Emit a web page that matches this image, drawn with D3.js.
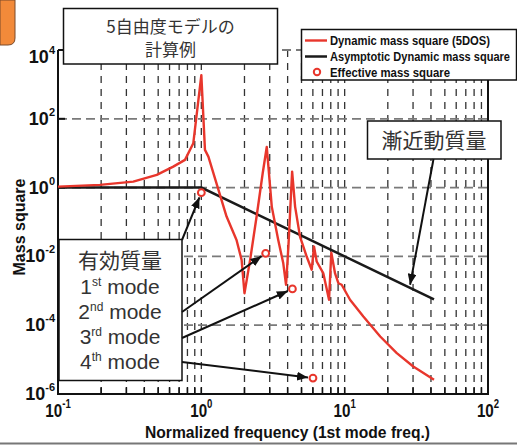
<!doctype html>
<html>
  <head>
    <meta charset="utf-8">
    <script src="https://cdnjs.cloudflare.com/ajax/libs/d3/7.8.5/d3.min.js"></script>
    <style>
      body { margin: 0; background: #fff; }
      svg { display: block; }
    </style>
  </head>
  <body>
    <svg></svg>
    <script>
      var width = 517,
          height = 446;

      // dynamic mass square (5DOS)
      var freq = [0.1, 0.196, 0.335, 0.489, 0.637, 0.769, 0.879, 1.0, 1.06, 1.12, 1.50, 1.76, 1.91, 2.0, 2.19, 2.43,
                  2.68, 2.86, 3.10, 3.44, 3.73, 3.90, 4.05, 4.30, 4.51, 4.88, 5.43, 5.89, 6.11, 6.38, 7.10, 7.78,
                  8.07, 8.57, 9.04, 9.53, 10.9, 13.5, 17.7, 23.1, 30.1, 42];
      var dynMass = [1.07, 1.2, 1.49, 2.34, 4.08, 6.4, 19.5, 1860, 12.5, 7.96, 0.144, 0.030, 0.0079, 8.5e-4, 0.0079, 0.144,
                     2.62, 15.2, 0.28, 0.030, 0.0063, 0.0015, 0.0193, 2.92, 0.28, 0.0377, 0.0099, 0.0041, 0.0193, 0.0071, 0.0032, 5.5e-4,
                     0.0129, 0.0032, 0.00166, 0.0015, 5.5e-4, 1.78e-4, 4.7e-5, 1.54e-5, 6.3e-6, 2.6e-6];

      // asymptotic dynamic mass square
      var asymFreq = [0.1, 1, 42];
      var asymMass = [1, 1, 5.67e-4];

      // effective mass square of modes 1-4
      var effFreq = [1.0, 2.81, 4.32, 6.01];
      var effMass = [0.71, 0.0123, 0.00113, 2.9e-6];
      var modeNames = [["1", "st"], ["2", "nd"], ["3", "rd"], ["4", "th"]];

      var xTicks = [0.1, 1, 10, 100];
      var xExp = ["-1", "0", "1", "2"];
      var yTicks = [1e4, 1e2, 1, 1e-2, 1e-4, 1e-6];
      var yExp = ["4", "2", "0", "-2", "-4", "-6"];

      var legendLabels = ["Dynamic mass square (5DOS)", "Asymptotic Dynamic mass square", "Effective mass square"];

      var red = "#e8362c";
      var latin = "'Liberation Sans', Arial, sans-serif";
      var jp = "'Noto Sans CJK JP', sans-serif";

      var x = d3.scaleLog().domain([0.1, 100]).range([58, 488]);
      var y = d3.scaleLog().domain([1e-6, 1e4]).range([394, 50]);

      var svg = d3.select("svg").attr("width", width).attr("height", height);

      // grid
      var minorX = [];
      [0.1, 1, 10].forEach(function(d) { for (var k = 1; k < 10; k++) minorX.push(d * k); });
      minorX = minorX.filter(function(d) { return d > 0.1; });
      svg.append("g").selectAll("line").data(minorX).enter().append("line")
          .attr("x1", d => x(d)).attr("x2", d => x(d))
          .attr("y1", y(1e4)).attr("y2", y(1e-6))
          .attr("stroke", "#333").attr("stroke-width", 1.3)
          .attr("stroke-dasharray", "7,6");
      svg.append("g").selectAll("line").data(yTicks).enter().append("line")
          .attr("x1", x(0.1)).attr("x2", x(100))
          .attr("y1", d => y(d)).attr("y2", d => y(d))
          .attr("stroke", "#7a7a7a").attr("stroke-width", 1.8)
          .attr("stroke-dasharray", "9,5");

      // minor ticks along the bottom
      svg.append("g").selectAll("line").data(minorX).enter().append("line")
          .attr("x1", d => x(d)).attr("x2", d => x(d))
          .attr("y1", y(1e-6)).attr("y2", y(1e-6) - 7)
          .attr("stroke", "#111").attr("stroke-width", 1.5);

      // axes frame
      svg.append("path")
          .attr("d", "M" + x(0.1) + "," + y(1e4) + "V" + y(1e-6) + "H" + x(100) + "V" + y(1e4))
          .attr("fill", "none").attr("stroke", "#111").attr("stroke-width", 2);
      svg.append("g").selectAll("line").data(yTicks).enter().append("line")
          .attr("x1", x(0.1)).attr("x2", x(0.1) + 7)
          .attr("y1", d => y(d)).attr("y2", d => y(d))
          .attr("stroke", "#111").attr("stroke-width", 2);

      // tick labels
      var yl = svg.append("g").selectAll("text").data(yTicks).enter().append("text")
          .attr("x", 55)
          .attr("y", (d, i) => y(d) + 6 + (i === 0 ? 7 : 0))
          .attr("text-anchor", "end")
          .attr("font-family", latin).attr("font-weight", "bold").attr("font-size", 18)
          .attr("fill", "#111");
      yl.append("tspan").text("10");
      yl.append("tspan").attr("font-size", 11).attr("dy", -9).text((d, i) => yExp[i]);

      var xl = svg.append("g").selectAll("g").data(xTicks).enter().append("g")
          .attr("transform", d => "translate(" + x(d) + ",417) scale(0.8,1)");
      var xt = xl.append("text")
          .attr("text-anchor", "middle")
          .attr("font-family", latin).attr("font-weight", "bold").attr("font-size", 19)
          .attr("fill", "#111");
      xt.append("tspan").text("10");
      xt.append("tspan").attr("font-size", 12).attr("dy", -9).text((d, i) => xExp[i]);

      // axis titles
      svg.append("text")
          .attr("x", 145).attr("y", 438)
          .attr("textLength", 285).attr("lengthAdjust", "spacingAndGlyphs")
          .attr("font-family", latin).attr("font-weight", "bold").attr("font-size", 16)
          .attr("fill", "#111")
          .text("Normalized frequency (1st mode freq.)");
      svg.append("text")
          .attr("transform", "translate(25,227) rotate(-90)")
          .attr("text-anchor", "middle")
          .attr("font-family", latin).attr("font-weight", "bold").attr("font-size", 16)
          .attr("fill", "#111")
          .text("Mass square");

      // curves
      var asym = d3.zip(asymFreq, asymMass);
      var dyn = d3.zip(freq, dynMass);
      var line = d3.line().x(d => x(d[0])).y(d => y(d[1]));

      svg.append("path").datum(asym).attr("d", line)
          .attr("fill", "none").attr("stroke", "#1a1a1a").attr("stroke-width", 2.5);
      svg.append("path").datum(dyn).attr("d", line)
          .attr("fill", "none").attr("stroke", red).attr("stroke-width", 2.4)
          .attr("stroke-linejoin", "round");

      var eff = d3.zip(effFreq, effMass);
      svg.append("g").selectAll("circle").data(eff).enter().append("circle")
          .attr("cx", d => x(d[0])).attr("cy", d => y(d[1])).attr("r", 3.4)
          .attr("fill", "#fff").attr("stroke", red).attr("stroke-width", 2);

      // orange tab in the corner
      svg.append("path")
          .attr("d", "M0,0H15V38Q15,45 8,45H0Z")
          .attr("fill", "#f28a3a").attr("stroke", "#7a4a2a").attr("stroke-width", 1);

      // title box
      svg.append("rect").attr("x", 63.5).attr("y", 8.5).attr("width", 214).attr("height", 55.5)
          .attr("fill", "#fff").attr("stroke", "#111").attr("stroke-width", 1.5);
      svg.append("text").attr("x", 170.5).attr("y", 33)
          .attr("text-anchor", "middle").attr("font-family", jp).attr("font-size", 17).attr("fill", "#333")
          .text("5自由度モデルの");
      svg.append("text").attr("x", 170.5).attr("y", 56)
          .attr("text-anchor", "middle").attr("font-family", jp).attr("font-size", 17).attr("fill", "#333")
          .text("計算例");

      // legend
      var lg = svg.append("g");
      lg.append("rect").attr("x", 301.5).attr("y", 29.5).attr("width", 215).attr("height", 50.5)
          .attr("fill", "#fff").attr("stroke", "#111").attr("stroke-width", 1.5);
      lg.append("line").attr("x1", 305).attr("x2", 327).attr("y1", 40.5).attr("y2", 40.5)
          .attr("stroke", red).attr("stroke-width", 2.4);
      lg.append("line").attr("x1", 305).attr("x2", 327).attr("y1", 56.5).attr("y2", 56.5)
          .attr("stroke", "#1a1a1a").attr("stroke-width", 2.5);
      lg.append("circle").attr("cx", 317).attr("cy", 72).attr("r", 3.2)
          .attr("fill", "#fff").attr("stroke", red).attr("stroke-width", 2);
      var lgWidths = [160, 180, 120];
      lg.selectAll("text").data(legendLabels).enter().append("text")
          .attr("x", 330).attr("y", (d, i) => 45 + i * 16)
          .attr("textLength", (d, i) => lgWidths[i]).attr("lengthAdjust", "spacingAndGlyphs")
          .attr("font-family", latin).attr("font-weight", "bold").attr("font-size", 13)
          .attr("fill", "#111")
          .text(d => d);

      // arrow marker
      svg.append("defs").append("marker")
          .attr("id", "ah").attr("markerUnits", "userSpaceOnUse")
          .attr("viewBox", "0 0 10 8").attr("refX", 10).attr("refY", 4)
          .attr("markerWidth", 11).attr("markerHeight", 9).attr("orient", "auto")
        .append("path").attr("d", "M0,0L10,4L0,8Z").attr("fill", "#111");

      // asymptotic mass callout
      svg.append("rect").attr("x", 367.5).attr("y", 121).attr("width", 133.5).attr("height", 38)
          .attr("fill", "#fff").attr("stroke", "#111").attr("stroke-width", 1.5);
      svg.append("text").attr("x", 434).attr("y", 148)
          .attr("text-anchor", "middle").attr("font-family", jp).attr("font-size", 21).attr("fill", "#333")
          .text("漸近動質量");
      var fA = 28.6;
      svg.append("line")
          .attr("x1", 433.5).attr("y1", 159)
          .attr("x2", x(fA)).attr("y2", y(1 / (fA * fA)) - 3)
          .attr("stroke", "#111").attr("stroke-width", 2).attr("marker-end", "url(#ah)");

      // effective mass callout
      svg.append("rect").attr("x", 59).attr("y", 239.5).attr("width", 123).attr("height", 141)
          .attr("fill", "#fff").attr("stroke", "#111").attr("stroke-width", 1.5);
      svg.append("text").attr("x", 120).attr("y", 268)
          .attr("text-anchor", "middle").attr("font-family", jp).attr("font-size", 21).attr("fill", "#333")
          .text("有効質量");
      var mt = svg.append("g").selectAll("text").data(modeNames).enter().append("text")
          .attr("x", 120).attr("y", (d, i) => 294 + i * 25)
          .attr("text-anchor", "middle").attr("font-family", latin).attr("font-size", 21).attr("fill", "#333");
      mt.append("tspan").text(d => d[0]);
      mt.append("tspan").attr("font-size", 12).attr("dy", -8).text(d => d[1]);
      mt.append("tspan").attr("dy", 8).text(" mode");

      var arrowStart = [[182, 240], [182, 312], [182, 338], [182, 362]];
      svg.append("g").selectAll("line").data(eff).enter().append("line")
          .attr("x1", (d, i) => arrowStart[i][0]).attr("y1", (d, i) => arrowStart[i][1])
          .attr("x2", function(d, i) {
            var cx = x(d[0]), cy = y(d[1]), sx = arrowStart[i][0], sy = arrowStart[i][1];
            var L = Math.hypot(sx - cx, sy - cy);
            return cx + (sx - cx) / L * 5;
          })
          .attr("y2", function(d, i) {
            var cx = x(d[0]), cy = y(d[1]), sx = arrowStart[i][0], sy = arrowStart[i][1];
            var L = Math.hypot(sx - cx, sy - cy);
            return cy + (sy - cy) / L * 5;
          })
          .attr("stroke", "#111").attr("stroke-width", 2).attr("marker-end", "url(#ah)");

      // bottom rule
      svg.append("line").attr("x1", 0).attr("x2", width).attr("y1", 443.5).attr("y2", 443.5)
          .attr("stroke", "#777").attr("stroke-width", 2);
    </script>
  </body>
</html>
